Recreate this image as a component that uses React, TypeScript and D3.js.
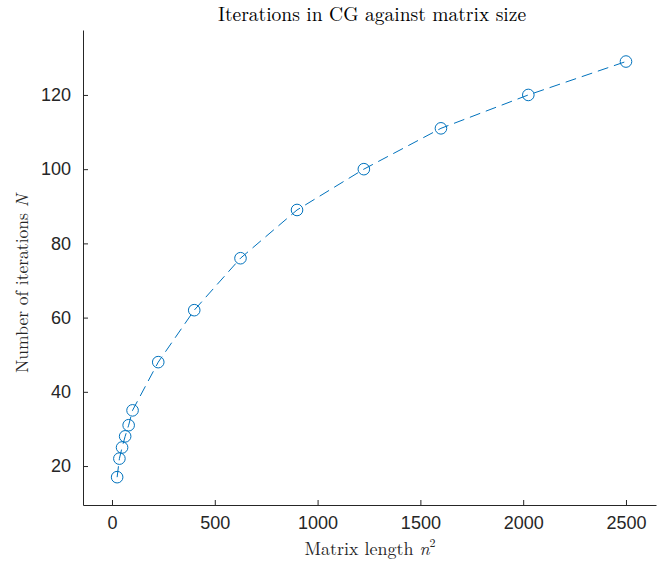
import React, { useEffect, useRef } from "react";
import * as d3 from "d3";

// matrix length n^2 and CG iteration counts
const matrixLength = [25, 36, 49, 64, 81, 100, 225, 400, 625, 900, 1225, 1600, 2025, 2500];
const iterations = [17, 22, 25, 28, 31, 35, 48, 62, 76, 89, 100, 111, 120, 129];
const xTicks = [0, 500, 1000, 1500, 2000, 2500];
const yTicks = [20, 40, 60, 80, 100, 120];

const W = 657;
const H = 563;

const App: React.FC = () => {
  const svgRef = useRef<SVGSVGElement | null>(null);

  useEffect(() => {
    const svg = d3.select(svgRef.current);
    svg.selectAll("*").remove();

    const left = 83;
    const right = 656;
    const top = 30;
    const bottom = 505;

    const x = d3.scaleLinear().domain([-141, 2646]).range([left, right]);
    const y = d3.scaleLinear().domain([9.5, 137.5]).range([bottom, top]);

    const axisColor = "#262626";
    const blue = "#0072BD";
    const sans = "Liberation Sans, Arial, sans-serif";

    // x axis (ticks pointing inward)
    const gx = svg
      .append("g")
      .attr("transform", `translate(0,${bottom})`)
      .call(
        d3.axisBottom(x).tickValues(xTicks).tickFormat(d3.format("d"))
          .tickSizeInner(-5).tickSizeOuter(0).tickPadding(11)
      );
    gx.select(".domain").attr("stroke", axisColor);
    gx.selectAll(".tick line").attr("stroke", axisColor);
    gx.selectAll(".tick text")
      .attr("fill", axisColor)
      .style("font-family", sans)
      .style("font-size", "18px");

    // y axis
    const gy = svg
      .append("g")
      .attr("transform", `translate(${left},0)`)
      .call(
        d3.axisLeft(y).tickValues(yTicks).tickFormat(d3.format("d"))
          .tickSizeInner(-5).tickSizeOuter(0).tickPadding(12)
      );
    gy.select(".domain").attr("stroke", axisColor);
    gy.selectAll(".tick line").attr("stroke", axisColor);
    gy.selectAll(".tick text")
      .attr("fill", axisColor)
      .style("font-family", sans)
      .style("font-size", "18px");

    // dashed line
    const line = d3
      .line<number>()
      .x((_, i) => x(matrixLength[i]))
      .y((d) => y(d));

    svg
      .append("path")
      .datum(iterations)
      .attr("d", line)
      .attr("fill", "none")
      .attr("stroke", blue)
      .attr("stroke-width", 1)
      .attr("stroke-dasharray", "11,6");

    // open circle markers (unfilled, like MATLAB 'o')
    svg
      .selectAll(".pt")
      .data(iterations)
      .enter()
      .append("circle")
      .attr("class", "pt")
      .attr("cx", (_, i) => x(matrixLength[i]))
      .attr("cy", (d) => y(d))
      .attr("r", 5.8)
      .attr("fill", "none")
      .attr("stroke", blue)
      .attr("stroke-width", 1);

    const serif = "Latin Modern Roman, CMU Serif, DejaVu Serif, serif";

    // title
    svg
      .append("text")
      .attr("x", 372)
      .attr("y", 21)
      .attr("text-anchor", "middle")
      .attr("fill", "#000")
      .style("font-family", serif)
      .style("font-size", "19.5px")
      .text("Iterations in CG against matrix size");

    // x label
    const xl = svg
      .append("text")
      .attr("x", 370)
      .attr("y", 555)
      .attr("text-anchor", "middle")
      .attr("fill", axisColor)
      .style("font-family", serif)
      .style("font-size", "18px");
    xl.append("tspan").text("Matrix length ");
    xl.append("tspan").attr("font-style", "italic").text("n");
    xl.append("tspan").attr("dy", -8).style("font-size", "12px").text("2");

    // y label
    const yl = svg
      .append("text")
      .attr("transform", `translate(28,${(top + bottom) / 2 + 16}) rotate(-90)`)
      .attr("text-anchor", "middle")
      .attr("fill", axisColor)
      .style("font-family", serif)
      .style("font-size", "17.5px");
    yl.append("tspan").text("Number of iterations ");
    yl.append("tspan").attr("font-style", "italic").text("N");
  }, []);

  return (
    <svg
      ref={svgRef}
      width={W}
      height={H}
      style={{ position: "absolute", left: 0, top: 0, background: "#fff" }}
    />
  );
};

export default App;
